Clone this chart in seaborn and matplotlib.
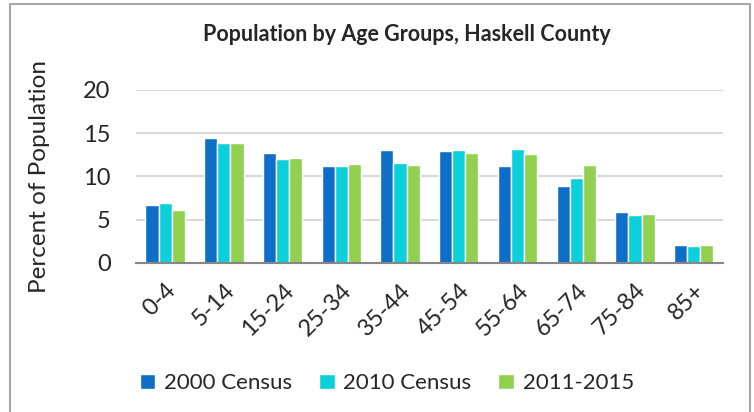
import seaborn as sns
import numpy as np
import matplotlib.pyplot as plt
import pandas as pd
from matplotlib.patches import Rectangle

# age groups and the three survey series (percent of population)
age_groups = ['0-4', '5-14', '15-24', '25-34', '35-44', '45-54', '55-64', '65-74', '75-84', '85+']
census_2000 = [6.7, 14.4, 12.7, 11.2, 13.0, 12.9, 11.2, 8.9, 5.9, 2.1]
census_2010 = [6.9, 13.9, 12.0, 11.2, 11.5, 13.1, 13.2, 9.8, 5.5, 1.9]
acs_2011_2015 = [6.1, 13.8, 12.1, 11.4, 11.3, 12.7, 12.6, 11.3, 5.6, 2.1]
series = ['2000 Census', '2010 Census', '2011-2015']
colors = ['#0F6FC6', '#0BD0D9', '#92D050']

df = pd.DataFrame({'age': age_groups * 3,
                   'pct': census_2000 + census_2010 + acs_2011_2015,
                   'series': np.repeat(series, len(age_groups))})

sns.set_style('white')
plt.rcParams['font.family'] = ['Lato', 'DejaVu Sans']

fig = plt.figure(figsize=(7.54, 4.12), dpi=100)
ax = fig.add_axes([0.180, 0.362, 0.779, 0.420])

sns.barplot(data=df, x='age', y='pct', hue='series', palette=colors,
            width=0.67, gap=0, ax=ax, saturation=1, legend=True)

ax.set_ylim(0, 20)
ax.set_xlim(-0.5, len(age_groups) - 0.5)
ax.set_yticks([0, 5, 10, 15, 20])
ax.yaxis.grid(True, color='#D9D9D9', linewidth=1.5)
ax.set_axisbelow(True)
ax.tick_params(axis='y', length=0, labelsize=17, pad=18)

ax.set_xticks(range(len(age_groups)))
ax.set_xticklabels(age_groups, rotation=45, ha='right', rotation_mode='anchor', fontsize=17)
ax.tick_params(axis='x', which='major', length=0, pad=12)
ax.set_xticks(np.arange(-0.5, len(age_groups)), minor=True)
ax.tick_params(axis='x', which='minor', length=8, width=1.5, color='#868686', direction='out')

for s in ['top', 'right', 'left']:
    ax.spines[s].set_visible(False)
ax.spines['bottom'].set_color('#868686')
ax.spines['bottom'].set_linewidth(1.5)

ax.set_xlabel('')
ax.set_ylabel('Percent of Population', fontsize=17.5, labelpad=24)
fig.text(0.54, 0.917, 'Population by Age Groups, Haskell County', ha='center',
         va='center', fontsize=15.5, fontweight='bold')

handles, labels = ax.get_legend_handles_labels()
ax.legend(handles, labels, loc='center', bbox_to_anchor=(0.513, 0.07),
          bbox_transform=fig.transFigure, ncol=3, frameon=False, fontsize=16,
          handlelength=0.7, handleheight=0.7, handletextpad=0.4, columnspacing=1.2)

fig.patches.append(Rectangle((10 / 754, -0.1), 740 / 754, 1.09, transform=fig.transFigure,
                             fill=False, edgecolor='#A6A6A6', linewidth=1.5))

fig.savefig('out.png', dpi=100)
